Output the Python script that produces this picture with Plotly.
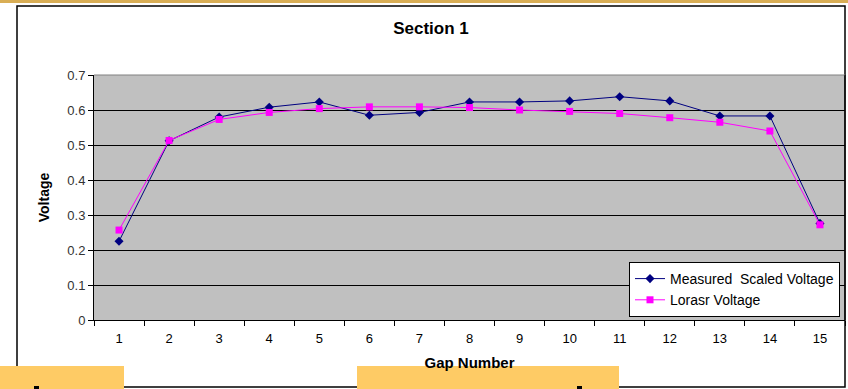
import plotly.graph_objects as go

# Gap numbers along the section
gaps = [str(i) for i in range(1, 16)]

# Voltages per gap
measured_scaled = [0.225, 0.512, 0.580, 0.608, 0.623, 0.585, 0.593, 0.623,
                   0.623, 0.626, 0.638, 0.626, 0.583, 0.583, 0.276]
lorasr = [0.257, 0.513, 0.573, 0.593, 0.604, 0.609, 0.609, 0.607,
          0.600, 0.596, 0.590, 0.578, 0.565, 0.540, 0.272]

y_ticks = [0, 0.1, 0.2, 0.3, 0.4, 0.5, 0.6, 0.7]

W, H = 848, 389
PX0, PX1, PY0, PY1 = 94, 845, 75, 320  # plot area in pixels


def px(x):
    return (x - PX0) / (PX1 - PX0)


def py(y):
    return (PY1 - y) / (PY1 - PY0)


FONT = "Liberation Sans, Arial, sans-serif"

fig = go.Figure()
fig.add_trace(go.Scatter(
    x=gaps, y=measured_scaled, name="Measured  Scaled Voltage",
    mode="lines+markers",
    line=dict(color="#000080", width=1),
    marker=dict(symbol="diamond", size=7, color="#000080"),
))
fig.add_trace(go.Scatter(
    x=gaps, y=lorasr, name="Lorasr Voltage",
    mode="lines+markers",
    line=dict(color="#FF00FF", width=1),
    marker=dict(symbol="square", size=7, color="#FF00FF"),
))

shapes = [
    # chart frame
    dict(type="rect", xref="paper", yref="paper",
         x0=px(17), x1=px(845), y0=py(387), y1=py(6),
         line=dict(color="black", width=1.5), fillcolor="rgba(0,0,0,0)", layer="below"),
    # plot area top edge
    dict(type="line", xref="paper", yref="paper", x0=0, x1=1, y0=1, y1=1,
         line=dict(color="#808080", width=1)),
    # plot area right edge
    dict(type="line", xref="paper", yref="paper", x0=1, x1=1, y0=0, y1=1,
         line=dict(color="black", width=1)),
    # gold strip across the top
    dict(type="rect", xref="paper", yref="paper",
         x0=px(0), x1=px(848), y0=py(3), y1=py(0),
         line=dict(width=0), fillcolor="#D9AE55"),
    # yellow boxes along the bottom
    dict(type="rect", xref="paper", yref="paper",
         x0=px(0), x1=px(124), y0=py(389), y1=py(366),
         line=dict(width=0), fillcolor="#FECB65"),
    dict(type="rect", xref="paper", yref="paper",
         x0=px(357), x1=px(619), y0=py(389), y1=py(366),
         line=dict(width=0), fillcolor="#FECB65"),
    # dark glyph edges inside the boxes
    dict(type="rect", xref="paper", yref="paper",
         x0=px(34), x1=px(39), y0=py(389), y1=py(386),
         line=dict(width=0), fillcolor="black"),
    dict(type="rect", xref="paper", yref="paper",
         x0=px(577), x1=px(582), y0=py(389), y1=py(386),
         line=dict(width=0), fillcolor="black"),
]

fig.update_layout(
    width=W, height=H,
    margin=dict(l=PX0, r=W - PX1, t=PY0, b=H - PY1),
    paper_bgcolor="white",
    plot_bgcolor="#C0C0C0",
    font=dict(family=FONT, color="black", size=13),
    title=dict(text="<b>Section 1</b>", xref="container", x=431 / W,
               xanchor="center", y=1 - 28 / H, yanchor="middle",
               font=dict(size=17, family=FONT, color="black")),
    showlegend=True,
    legend=dict(
        x=px(840), xanchor="right", y=py(317), yanchor="bottom",
        bgcolor="white", bordercolor="black", borderwidth=1,
        font=dict(size=14, family=FONT, color="#000000"),
        tracegroupgap=0, itemwidth=30,
    ),
    shapes=shapes,
)

fig.update_xaxes(
    type="category", range=[-0.5, 14.5], tickson="boundaries",
    ticks="outside", ticklen=5, ticklabelstandoff=6,
    tickcolor="black", showline=True, linecolor="black", linewidth=1,
    showgrid=False, zeroline=False,
    tickfont=dict(size=13, family=FONT, color="black"),
    title=dict(text="<b>Gap Number</b>", standoff=12,
               font=dict(size=15, family=FONT, color="black")),
)
fig.update_yaxes(
    range=[0, 0.7], tickvals=y_ticks, ticktext=[f"{v:g}" for v in y_ticks],
    ticks="outside", ticklen=5, tickcolor="black",
    showline=True, linecolor="black", linewidth=1,
    showgrid=True, gridcolor="black", gridwidth=1, zeroline=False,
    tickfont=dict(size=13, family=FONT, color="#333333"),
    title=dict(text="<b>Voltage</b>", standoff=14,
               font=dict(size=14, family=FONT, color="black")),
)

fig.write_html("out.html")
